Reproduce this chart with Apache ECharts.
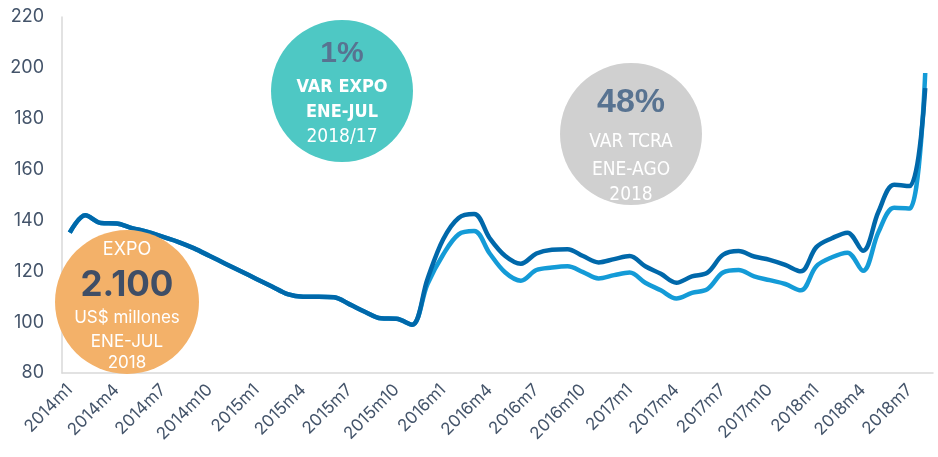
<!DOCTYPE html>
<html>
<head>
<meta charset="utf-8">
<script src="https://cdn.jsdelivr.net/npm/echarts@6/dist/echarts.min.js"></script>
<style>
  html, body { margin: 0; padding: 0; background: #fff; }
  #chart { width: 938px; height: 457px; }
</style>
</head>
<body>
<div id="chart"></div>
<script>
// meses 2014m1 .. 2018m8
const months = [
  '2014m1','2014m2','2014m3','2014m4','2014m5','2014m6','2014m7','2014m8','2014m9','2014m10','2014m11','2014m12',
  '2015m1','2015m2','2015m3','2015m4','2015m5','2015m6','2015m7','2015m8','2015m9','2015m10','2015m11','2015m12',
  '2016m1','2016m2','2016m3','2016m4','2016m5','2016m6','2016m7','2016m8','2016m9','2016m10','2016m11','2016m12',
  '2017m1','2017m2','2017m3','2017m4','2017m5','2017m6','2017m7','2017m8','2017m9','2017m10','2017m11','2017m12',
  '2018m1','2018m2','2018m3','2018m4','2018m5','2018m6','2018m7','2018m8'
]

// serie oscura
const serieOscura = [
  135.2, 142, 139, 138.8, 137, 135.5, 133.5, 131.5, 129, 126, 123, 120,
  117, 114, 111, 110, 110, 109.8, 107, 104, 101.5, 101.3, 99, 117,
  132.5, 141, 142.5, 133, 126, 123, 127, 128.5, 128.7, 126, 123.5, 124.8,
  126, 122, 119, 115.5, 118, 119.5, 126.5, 128, 125.8, 124.5, 122.5, 120,
  129.5, 133, 135.2, 128.1, 143.5, 154, 153.5, 192
]

// serie clara
const serieClara = [
  135.2, 142, 139, 138.8, 137, 135.5, 133.5, 131.5, 129, 126, 123, 120,
  117, 114, 111, 110, 110, 109.8, 107, 104, 101.5, 101.3, 99, 115,
  126.5, 134.5, 135.8, 127, 119.5, 116.3, 120.5, 121.5, 122, 119.7, 117.2, 118.5,
  119.5, 115.5, 112.5, 109.3, 111.5, 113, 119.5, 120.5, 118, 116.5, 115, 112.5,
  122, 125.5, 127.3, 120.2, 135.5, 145, 144.7, 198
]

const yTicks = { min: 80, max: 220, step: 20 }

const axisFont = 'Inter, "Open Sans", sans-serif'
const narrowFont = '"Liberation Sans Narrow", "DejaVu Sans Condensed", "Liberation Sans", sans-serif'
const slate = '#44546a'

function circleText(x, y, text, size, color, weight, family) {
  return {
    type: 'text',
    x: x,
    y: y,
    z: 10,
    style: {
      text: text,
      fill: color,
      font: (weight || 'normal') + ' ' + size + 'px ' + family,
      textAlign: 'center',
      textVerticalAlign: 'middle'
    }
  }
}

const chart = echarts.init(document.getElementById('chart'))
const option = {
  animation: false,
  grid: {
    left: 62,
    right: 5,
    top: 17,
    bottom: 84,
    containLabel: false
  },
  xAxis: {
    type: 'category',
    data: months,
    boundaryGap: true,
    axisLine: { lineStyle: { color: '#d9d9d9', width: 1.5 } },
    axisTick: { show: false },
    axisLabel: {
      interval: 2,
      rotate: 45,
      color: slate,
      fontFamily: axisFont,
      fontSize: 17,
      margin: 14
    }
  },
  yAxis: {
    type: 'value',
    min: yTicks.min,
    max: yTicks.max,
    interval: yTicks.step,
    axisLine: { show: true, lineStyle: { color: '#d9d9d9', width: 1.5 } },
    axisTick: { show: false },
    splitLine: { show: false },
    axisLabel: {
      color: slate,
      fontFamily: axisFont,
      fontSize: 18,
      margin: 18
    }
  },
  series: [
    {
      name: 'clara',
      type: 'line',
      data: serieClara,
      smooth: 0.35,
      symbol: 'none',
      z: 3,
      lineStyle: { color: '#149bd7', width: 4.5 }
    },
    {
      name: 'oscura',
      type: 'line',
      data: serieOscura,
      smooth: 0.35,
      symbol: 'none',
      z: 4,
      lineStyle: { color: '#0068aa', width: 4.5 }
    }
  ],
  graphic: [
    // circulo teal
    { type: 'circle', shape: { cx: 342, cy: 91, r: 71 }, style: { fill: '#4ec8c4' }, z: 5 },
    circleText(342, 54, '1%', 30, '#587391', 'bold', '"Liberation Sans", sans-serif'),
    circleText(342, 87, 'VAR EXPO', 18, '#ffffff', 'bold', narrowFont),
    circleText(342, 112, 'ENE-JUL', 18, '#ffffff', 'bold', narrowFont),
    circleText(342, 137, '2018/17', 19, '#ffffff', 'normal', narrowFont),
    // circulo gris
    { type: 'circle', shape: { cx: 631, cy: 134, r: 71 }, style: { fill: '#d0d0d0' }, z: 5 },
    circleText(631, 103, '48%', 34, '#587391', 'bold', '"Liberation Sans", sans-serif'),
    circleText(631, 142, 'VAR TCRA', 19, '#ffffff', 'normal', narrowFont),
    circleText(631, 170, 'ENE-AGO', 19, '#ffffff', 'normal', narrowFont),
    circleText(631, 195, '2018', 19, '#ffffff', 'normal', narrowFont),
    // circulo naranja
    { type: 'circle', shape: { cx: 127, cy: 302, r: 72 }, style: { fill: '#f3b169' }, z: 5 },
    circleText(127, 250, 'EXPO', 18, '#ffffff', 'normal', axisFont),
    circleText(127, 285, '2.100', 35, '#3f4e66', 'bold', axisFont),
    circleText(127, 318, 'US$ millones', 17, '#ffffff', 'normal', axisFont),
    circleText(127, 342, 'ENE-JUL', 17, '#ffffff', 'normal', axisFont),
    circleText(127, 363, '2018', 17, '#ffffff', 'normal', axisFont)
  ]
}
chart.setOption(option)
</script>
</body>
</html>
